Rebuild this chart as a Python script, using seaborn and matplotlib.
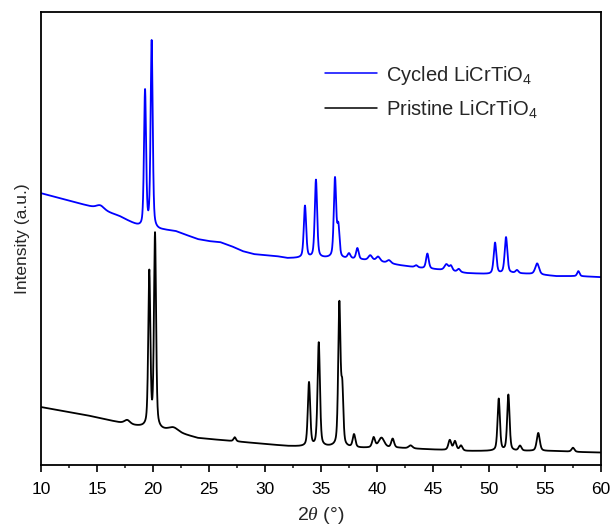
import numpy as np
import pandas as pd
import matplotlib
matplotlib.use("Agg")
import matplotlib.pyplot as plt
import seaborn as sns

# ---- XRD data: background anchors and reflections (2theta in degrees, intensity in a.u.) ----
pristine_bg_theta = [10, 12, 14, 16, 18, 20, 22, 24, 26, 28, 30, 32, 34, 36, 38, 40,
                     42, 44, 46, 48, 50, 52, 54, 56, 58, 60]
pristine_bg_int = [58, 54, 50, 45, 40, 36, 33, 27, 25, 23, 21, 19, 18, 18, 17, 17,
                   17, 16, 15, 14, 14, 14, 14, 14, 13, 12.5]

pristine_pk_pos = [17.7, 19.67, 20.18, 21.8, 27.3, 33.93, 34.8, 36.64, 36.9, 37.95,
                   39.7, 40.4, 41.4, 43.0, 46.5, 46.96, 47.5, 50.87, 51.73, 52.77,
                   54.4, 57.5]
pristine_pk_int = [4, 155, 194, 4, 4, 64, 104, 142, 54, 13,
                   10, 10, 9, 3, 10, 9, 5, 52, 56, 5,
                   18, 4]
pristine_pk_fwhm = [0.6, 0.22, 0.22, 1.0, 0.25, 0.25, 0.25, 0.24, 0.22, 0.28,
                    0.3, 0.6, 0.3, 0.4, 0.3, 0.3, 0.3, 0.25, 0.25, 0.3,
                    0.32, 0.3]

cycled_bg_theta = [10, 11, 12, 13, 14, 15, 16, 17, 18, 19, 20, 21, 22, 23, 24, 25,
                   26, 27, 28, 29, 30, 31, 32, 34, 36, 38, 40, 42, 44, 46, 48, 50,
                   52, 54, 56, 58, 60]
cycled_bg_int = [272, 269, 266, 263, 260, 257, 253, 249, 243, 237, 235, 235, 234,
                 230, 226, 224, 223, 219, 214, 211, 210, 209, 207, 207, 207, 206,
                 204, 200, 197, 195, 192, 191, 192, 191, 189, 189, 188]

cycled_pk_pos = [15.3, 19.29, 19.88, 33.57, 34.55, 36.25, 36.55, 37.5, 38.25, 39.4,
                 40.1, 41.07, 43.5, 44.5, 46.2, 46.6, 47.3, 50.54, 51.52, 52.5,
                 54.3, 57.98]
cycled_pk_int = [4, 137, 188, 52, 78, 79, 30, 5, 11, 5,
                 4.5, 3, 2, 15, 6, 5, 3, 31, 36, 3,
                 11, 5]
cycled_pk_fwhm = [0.8, 0.22, 0.22, 0.25, 0.25, 0.25, 0.24, 0.3, 0.27, 0.4,
                  0.4, 0.4, 0.3, 0.28, 0.4, 0.3, 0.3, 0.28, 0.28, 0.3,
                  0.4, 0.25]

series_names = ["Cycled LiCrTiO$_4$", "Pristine LiCrTiO$_4$"]
series_colors = ["#0000ff", "#000000"]


def pattern(theta, bg_t, bg_i, pos, inten, fwhm, eta=0.45):
    """Background plus pseudo-Voigt reflections."""
    y = np.interp(theta, bg_t, bg_i)
    for c, h, w in zip(pos, inten, fwhm):
        d = (theta - c) / w
        lor = 1.0 / (1.0 + 4.0 * d ** 2)
        gau = np.exp(-4.0 * np.log(2.0) * d ** 2)
        y = y + h * (eta * lor + (1 - eta) * gau)
    return y


theta = np.arange(10.0, 60.0001, 0.01)
cycled = pattern(theta, cycled_bg_theta, cycled_bg_int,
                 cycled_pk_pos, cycled_pk_int, cycled_pk_fwhm)
pristine = pattern(theta, pristine_bg_theta, pristine_bg_int,
                   pristine_pk_pos, pristine_pk_int, pristine_pk_fwhm)

df = pd.concat([
    pd.DataFrame({"theta": theta, "intensity": cycled, "sample": series_names[0]}),
    pd.DataFrame({"theta": theta, "intensity": pristine, "sample": series_names[1]}),
])

sns.set_theme(style="ticks")
plt.rcParams["font.family"] = ["Liberation Sans", "DejaVu Sans"]
plt.rcParams["mathtext.fontset"] = "custom"
plt.rcParams["mathtext.rm"] = "Liberation Sans"
plt.rcParams["mathtext.it"] = "Liberation Serif:italic"

fig = plt.figure(figsize=(6.12, 5.27), dpi=100)
ax = fig.add_axes([0.067, 0.1176, 0.915, 0.859])

sns.lineplot(data=df, x="theta", y="intensity", hue="sample",
             hue_order=series_names, palette=series_colors,
             linewidth=1.3, ax=ax, estimator=None, sort=False)

ax.set_xlim(10, 60)
ax.set_ylim(0, 453)
ax.set_xticks(np.arange(10, 61, 5))
ax.set_xticks(np.arange(12.5, 60, 5), minor=True)
ax.set_yticks([])
ax.tick_params(axis="x", which="major", direction="out", length=5, width=1.2,
               labelsize=12.5, pad=7, colors="black")
ax.tick_params(axis="x", which="minor", direction="out", length=2.5, width=1.2)
for s in ax.spines.values():
    s.set_linewidth(1.3)
    s.set_color("black")

ax.set_xlabel(r"2$\mathit{\theta}$ (°)", fontsize=14, labelpad=6)
ax.set_ylabel("Intensity (a.u.)", fontsize=12.5, labelpad=8)

leg = ax.legend(loc="upper left", bbox_to_anchor=(0.475, 0.927), frameon=False,
                fontsize=14.5, handlelength=2.6, handletextpad=0.4,
                labelspacing=0.55)
for line in leg.get_lines():
    line.set_linewidth(1.1)

fig.savefig("out.png", dpi=100)
